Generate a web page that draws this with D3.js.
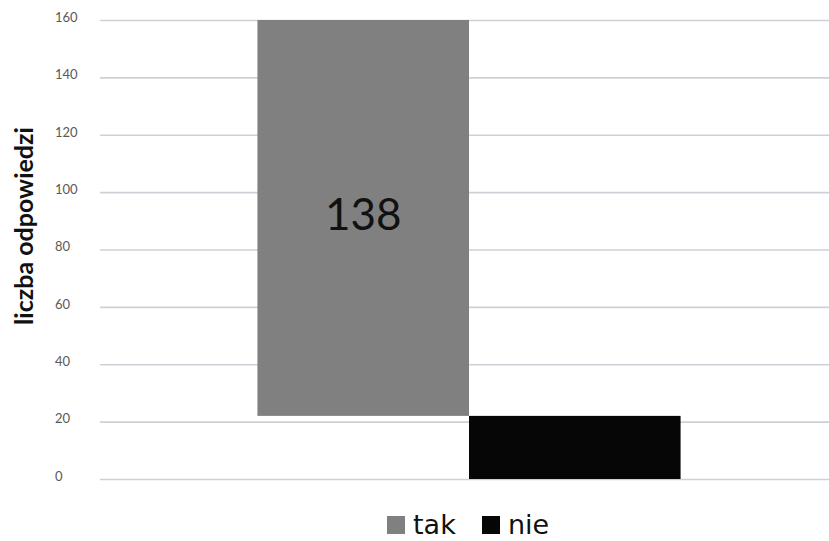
<!DOCTYPE html>
<html>
<head>
<meta charset="utf-8">
<script src="https://cdn.jsdelivr.net/npm/d3@7"></script>
<style>
  html, body { margin: 0; padding: 0; background: #fff; }
  svg { display: block; }
</style>
</head>
<body>
<svg id="chart" width="829" height="541"></svg>
<script>
// Survey answers: "tak" floats on top of "nie" (waterfall-style layout)
const categories = ["tak", "nie"];
const values = [138, 22];
const bases = [22, 0];
const colors = ["#808080", "#060606"];
const yTicks = [0, 20, 40, 60, 80, 100, 120, 140, 160];
const yTitle = "liczba odpowiedzi";

const svg = d3.select("#chart");
const plot = { left: 100, right: 838, top: 20, bottom: 479 };

const y = d3.scaleLinear().domain([0, 160]).range([plot.bottom, plot.top]);

// one group holding both answers side by side
const xGroup = d3.scaleBand().domain(["odp"]).range([plot.left, plot.right])
  .paddingInner(0).paddingOuter(0.372);
const xSeries = d3.scaleBand().domain(categories).range([0, xGroup.bandwidth()]).padding(0);

// gridlines and tick labels
const axis = svg.append("g")
  .attr("transform", `translate(${plot.left},0)`)
  .call(d3.axisLeft(y).tickValues(yTicks).tickSize(-(plot.right - plot.left)).tickFormat(d3.format("d")));
axis.select(".domain").remove();
axis.selectAll(".tick line").attr("stroke", "#cdd1d7").attr("stroke-width", 1.6);
axis.selectAll(".tick text")
  .attr("x", 55 - plot.left)
  .attr("dy", "0.1em")
  .attr("text-anchor", "start")
  .attr("fill", "#595959")
  .style("font-family", "Lato, 'Open Sans', sans-serif")
  .style("font-size", "13px");

// bars
const data = categories.map((c, i) => ({ cat: c, value: values[i], base: bases[i], color: colors[i] }));
const gx = xGroup("odp");
svg.append("g").selectAll("rect")
  .data(data)
  .join("rect")
  .attr("x", d => gx + xSeries(d.cat))
  .attr("width", xSeries.bandwidth())
  .attr("y", d => y(d.base + d.value))
  .attr("height", d => y(d.base) - y(d.base + d.value))
  .attr("fill", d => d.color);

// value label inside the "tak" bar
const tak = data[0];
svg.append("text")
  .attr("x", gx + xSeries(tak.cat) + xSeries.bandwidth() / 2)
  .attr("y", y(tak.base + tak.value / 2) + 1)
  .attr("text-anchor", "middle")
  .attr("dominant-baseline", "middle")
  .attr("fill", "#111")
  .style("font-family", "Lato, 'Open Sans', sans-serif")
  .style("font-size", "44px")
  .text(tak.value);

// y axis title
svg.append("text")
  .attr("transform", `translate(33,226) rotate(-90)`)
  .attr("text-anchor", "middle")
  .attr("fill", "#111")
  .style("font-family", "Lato, 'Open Sans', sans-serif")
  .style("font-weight", "bold")
  .style("font-size", "25px")
  .text(yTitle);

// legend
const legend = svg.append("g").attr("transform", "translate(387,516)");
const legendX = [0, 95];
const items = legend.selectAll("g").data(data).join("g")
  .attr("transform", (d, i) => `translate(${legendX[i]},0)`);
items.append("rect").attr("width", 18).attr("height", 18).attr("fill", d => d.color);
items.append("text")
  .attr("x", 26).attr("y", 18)
  .attr("fill", "#111")
  .style("font-family", "'DejaVu Sans', sans-serif")
  .style("font-size", "27px")
  .text(d => d.cat);
</script>
</body>
</html>
